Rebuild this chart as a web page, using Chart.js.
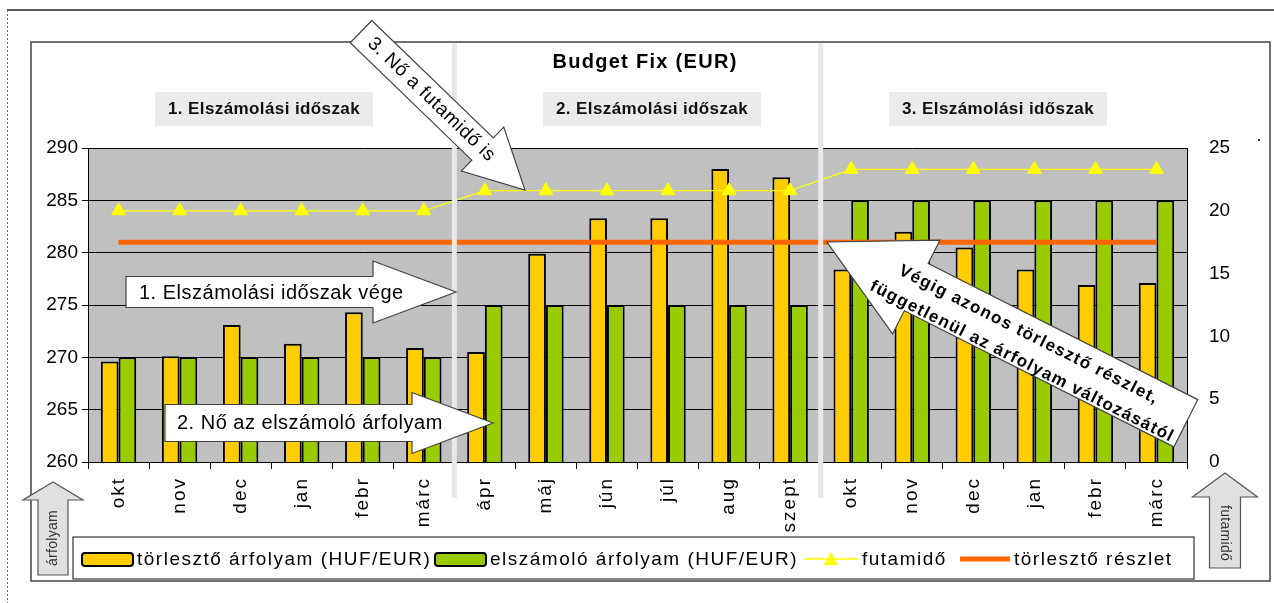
<!DOCTYPE html>
<html lang="hu">
<head>
<meta charset="utf-8">
<title>Budget Fix (EUR)</title>
<script src="https://cdn.jsdelivr.net/npm/chart.js@4.4.1/dist/chart.umd.min.js"></script>
<style>
    html, body { margin: 0; padding: 0; background: #fff; }
    #wrap { width: 1274px; height: 603px; }
</style>
</head>
<body>
<div id="wrap"><canvas id="budgetChart" width="1274" height="603"></canvas></div>
<script>
const months = ['okt', 'nov', 'dec', 'jan', 'febr', 'márc', 'ápr', 'máj', 'jún', 'júl', 'aug', 'szept', 'okt', 'nov', 'dec', 'jan', 'febr', 'márc'];
const torlesztoArfolyam = [269.6, 270.1, 273.1, 271.3, 274.3, 270.9, 270.5, 279.9, 283.3, 283.3, 288.0, 287.2, 278.4, 282.0, 280.5, 278.4, 276.9, 277.1];
const elszamoloArfolyam = [270, 270, 270, 270, 270, 270, 275, 275, 275, 275, 275, 275, 285, 285, 285, 285, 285, 285];
const futamido = [20, 20, 20, 20, 20, 20, 21.6, 21.6, 21.6, 21.6, 21.6, 21.6, 23.3, 23.3, 23.3, 23.3, 23.3, 23.3];
const torlesztoReszlet = [281, 281, 281, 281, 281, 281, 281, 281, 281, 281, 281, 281, 281, 281, 281, 281, 281, 281];
const periodNames = ['1. Elszámolási időszak', '2. Elszámolási időszak', '3. Elszámolási időszak'];
const periodEnds = [5, 11];   // last month index of periods 1 and 2

const FONT = "'Liberation Sans', Arial, sans-serif";

function blockArrow(ctx, tipX, tipY, angle, len, bodyW, headW, headL, fill, stroke) {
    ctx.save();
    ctx.translate(tipX, tipY);
    ctx.rotate(angle);
    ctx.beginPath();
    ctx.moveTo(-len, -bodyW / 2);
    ctx.lineTo(-headL, -bodyW / 2);
    ctx.lineTo(-headL, -headW / 2);
    ctx.lineTo(0, 0);
    ctx.lineTo(-headL, headW / 2);
    ctx.lineTo(-headL, bodyW / 2);
    ctx.lineTo(-len, bodyW / 2);
    ctx.closePath();
    ctx.fillStyle = fill;
    ctx.fill();
    ctx.lineWidth = 1.2;
    ctx.strokeStyle = stroke;
    ctx.stroke();
    ctx.restore();
}

const decorations = {
    id: 'decorations',
    beforeDraw(chart) {
        const ctx = chart.ctx;
        const area = chart.chartArea;
        ctx.save();
        ctx.fillStyle = '#fff';
        ctx.fillRect(0, 0, chart.width, chart.height);

        // outer frame
        ctx.strokeStyle = '#222';
        ctx.lineWidth = 1.5;
        ctx.beginPath();
        ctx.moveTo(7, 10);
        ctx.lineTo(chart.width, 10);
        ctx.stroke();
        ctx.setLineDash([2, 2]);
        ctx.lineWidth = 1;
        ctx.strokeStyle = '#666';
        ctx.beginPath();
        ctx.moveTo(7.5, 10);
        ctx.lineTo(7.5, chart.height);
        ctx.stroke();
        ctx.setLineDash([]);

        // inner frame
        ctx.strokeStyle = '#444';
        ctx.lineWidth = 1.5;
        ctx.strokeRect(31, 42, 1239, 539);

        // title
        ctx.fillStyle = '#000';
        ctx.font = 'bold 20px ' + FONT;
        ctx.letterSpacing = '1.3px';
        ctx.textAlign = 'center';
        ctx.textBaseline = 'middle';
        ctx.fillText('Budget Fix (EUR)', 645, 62);

        // period label boxes
        const boxX = [155, 543, 889];
        ctx.font = 'bold 17px ' + FONT;
        ctx.letterSpacing = '0.4px';
        periodNames.forEach((name, i) => {
            ctx.fillStyle = '#ebebeb';
            ctx.fillRect(boxX[i], 92, 218, 34);
            ctx.fillStyle = '#111';
            ctx.fillText(name, boxX[i] + 109, 109);
        });

        // plot background
        ctx.fillStyle = '#c0c0c0';
        ctx.fillRect(area.left, area.top, area.right - area.left, area.bottom - area.top);
        ctx.restore();
    },
    afterDraw(chart) {
        const ctx = chart.ctx;
        const xs = chart.scales.x;
        ctx.save();

        // month labels, written upward under each category
        ctx.fillStyle = '#000';
        ctx.font = '19px ' + FONT;
        ctx.letterSpacing = '2px';
        ctx.textAlign = 'right';
        ctx.textBaseline = 'middle';
        chart.data.labels.forEach((lab, i) => {
            ctx.save();
            ctx.translate(xs.getPixelForValue(i), 477);
            ctx.rotate(-Math.PI / 2);
            ctx.fillText(lab, 0, 0);
            ctx.restore();
        });

        // separators between the periods
        ctx.fillStyle = '#e8e8e8';
        periodEnds.forEach(i => {
            const sx = (xs.getPixelForValue(i) + xs.getPixelForValue(i + 1)) / 2;
            ctx.fillRect(sx - 2.5, 43, 5, 455);
        });

        // white callout arrows
        ctx.textBaseline = 'middle';
        ctx.textAlign = 'left';
        blockArrow(ctx, 456, 292, 0, 330, 31, 62, 83, '#fff', '#444');
        blockArrow(ctx, 493, 423, 0, 328, 37, 61, 81, '#fff', '#444');
        ctx.fillStyle = '#000';
        ctx.font = '20px ' + FONT;
        ctx.letterSpacing = '0.5px';
        ctx.fillText('1. Elszámolási időszak vége', 139, 293);
        ctx.fillText('2. Nő az elszámoló árfolyam', 177, 423);

        const a3 = 44 * Math.PI / 180;
        blockArrow(ctx, 525, 190, a3, 228, 31, 61, 59, '#fff', '#444');
        ctx.save();
        ctx.translate(525, 190);
        ctx.rotate(a3);
        ctx.fillStyle = '#000';
        ctx.font = '19px ' + FONT;
        ctx.letterSpacing = '0.6px';
        ctx.fillText('3. Nő a futamidő is', -215, 0);
        ctx.restore();

        const a4 = 26.8 * Math.PI / 180;
        blockArrow(ctx, 827, 242, Math.PI + a4, 402, 53, 105, 100, '#fff', '#444');
        ctx.save();
        ctx.translate(827, 242);
        ctx.rotate(a4);
        ctx.fillStyle = '#000';
        ctx.font = 'bold 17px ' + FONT;
        ctx.letterSpacing = '1.3px';
        ctx.textAlign = 'center';
        ctx.fillText('Végig azonos törlesztő részlet,', 222, -8);
        ctx.fillText('függetlenül az árfolyam változásától', 228, 19);
        ctx.restore();

        // gray axis arrows
        blockArrow(ctx, 53, 482, -Math.PI / 2, 93, 30, 60, 18, '#e0e0e0', '#555');
        blockArrow(ctx, 1225, 473, -Math.PI / 2, 95, 31, 65, 24, '#e0e0e0', '#555');
        ctx.fillStyle = '#333';
        ctx.font = '14px ' + FONT;
        ctx.letterSpacing = '0.3px';
        ctx.textAlign = 'center';
        ctx.save();
        ctx.translate(53, 538);
        ctx.rotate(-Math.PI / 2);
        ctx.fillText('árfolyam', 0, 0);
        ctx.restore();
        ctx.save();
        ctx.translate(1225, 533);
        ctx.rotate(Math.PI / 2);
        ctx.fillText('futamidő', 0, 0);
        ctx.restore();

        ctx.fillStyle = '#333';
        ctx.fillRect(1258, 139, 2, 2);

        // legend
        ctx.fillStyle = '#fff';
        ctx.fillRect(73, 537, 1121, 42);
        ctx.strokeStyle = '#333';
        ctx.lineWidth = 1.2;
        ctx.strokeRect(73, 537, 1121, 42);
        ctx.font = '19px ' + FONT;
        ctx.letterSpacing = '1.5px';
        ctx.textAlign = 'left';
        const keyX = [82, 435, 804, 960];
        const keyW = [51, 51, 54, 50];
        const ly = 559;
        chart.data.datasets.forEach((ds, i) => {
            const lx = keyX[i];
            if (ds.type === 'bar') {
                ctx.beginPath();
                ctx.roundRect(lx, ly - 6, keyW[i], 13, 3);
                ctx.fillStyle = ds.backgroundColor;
                ctx.fill();
                ctx.lineWidth = 2;
                ctx.strokeStyle = '#000';
                ctx.stroke();
            } else {
                ctx.beginPath();
                ctx.moveTo(lx, ly);
                ctx.lineTo(lx + keyW[i], ly);
                ctx.lineWidth = ds.borderWidth;
                ctx.strokeStyle = ds.borderColor;
                ctx.stroke();
                if (ds.pointRadius > 0) {
                    const cx = lx + keyW[i] / 2;
                    ctx.beginPath();
                    ctx.moveTo(cx, ly - 7);
                    ctx.lineTo(cx + 7, ly + 6);
                    ctx.lineTo(cx - 7, ly + 6);
                    ctx.closePath();
                    ctx.fillStyle = ds.pointBackgroundColor;
                    ctx.fill();
                }
            }
            ctx.fillStyle = '#000';
            ctx.fillText(ds.label, lx + keyW[i] + 4, ly + 1);
        });
        ctx.restore();
    }
};

new Chart(document.getElementById('budgetChart'), {
    data: {
        labels: months,
        datasets: [
            {
                type: 'bar',
                label: 'törlesztő árfolyam (HUF/EUR)',
                data: torlesztoArfolyam,
                yAxisID: 'y',
                backgroundColor: '#ffcc00',
                borderColor: '#000',
                borderWidth: 2,
                barPercentage: 1.0,
                categoryPercentage: 0.58,
                order: 3
            },
            {
                type: 'bar',
                label: 'elszámoló árfolyam (HUF/EUR)',
                data: elszamoloArfolyam,
                yAxisID: 'y',
                backgroundColor: '#99cc00',
                borderColor: '#000',
                borderWidth: 2,
                barPercentage: 1.0,
                categoryPercentage: 0.58,
                order: 3
            },
            {
                type: 'line',
                label: 'futamidő',
                data: futamido,
                yAxisID: 'y1',
                borderColor: '#ffff00',
                borderWidth: 1.3,
                pointStyle: 'triangle',
                pointRadius: 8,
                pointBackgroundColor: '#ffff00',
                pointBorderColor: '#ffff00',
                pointBorderWidth: 1,
                tension: 0,
                order: 1
            },
            {
                type: 'line',
                label: 'törlesztő részlet',
                data: torlesztoReszlet,
                yAxisID: 'y',
                borderColor: '#ff6600',
                borderWidth: 5,
                pointRadius: 0,
                order: 0
            }
        ]
    },
    options: {
        responsive: false,
        animation: false,
        layout: { padding: { top: 148, left: 0, right: 0, bottom: 0 } },
        plugins: {
            legend: { display: false },
            tooltip: { enabled: false }
        },
        scales: {
            x: {
                offset: true,
                grid: { offset: true, drawOnChartArea: false, tickLength: 7, color: '#000' },
                border: { color: '#000' },
                ticks: { display: false, autoSkip: false },
                afterFit: scale => { scale.height = 141; }
            },
            y: {
                position: 'left',
                min: 260,
                max: 290,
                ticks: { stepSize: 5, padding: 4, color: '#000', font: { family: FONT, size: 19 } },
                grid: { color: '#000', tickLength: 6 },
                border: { color: '#000' },
                afterFit: scale => { scale.width = 88; }
            },
            y1: {
                position: 'right',
                min: 0,
                max: 25,
                ticks: { stepSize: 5, padding: 22, color: '#000', font: { family: FONT, size: 19 } },
                grid: { drawOnChartArea: false, drawTicks: false },
                border: { color: '#000' },
                afterFit: scale => { scale.width = 87; }
            }
        }
    },
    plugins: [decorations]
});
</script>
</body>
</html>
